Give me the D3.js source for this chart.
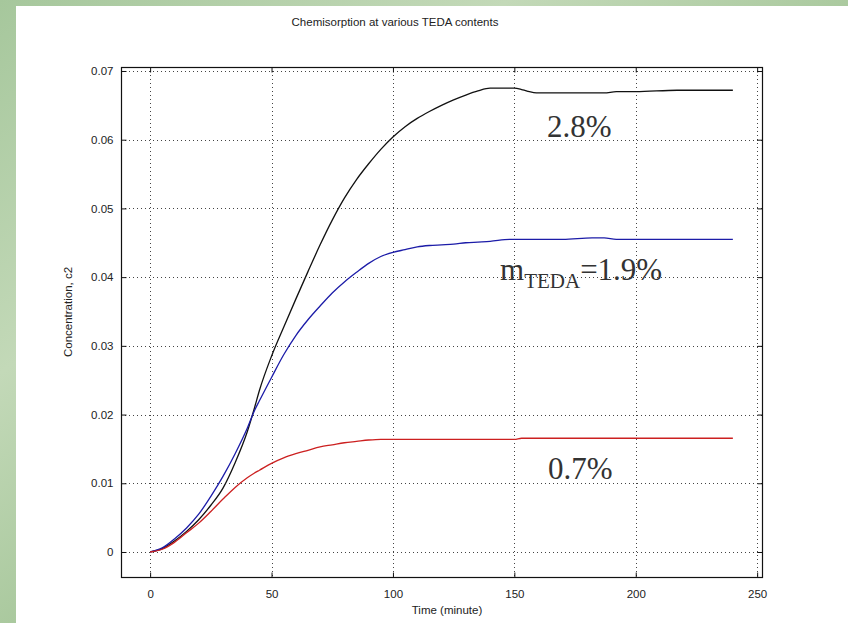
<!DOCTYPE html>
<html>
<head>
<meta charset="utf-8">
<script src="https://cdn.jsdelivr.net/npm/d3@7"></script>
<style>
  html, body { margin: 0; padding: 0; background: #ffffff; }
  svg { display: block; }
</style>
</head>
<body>
<svg id="chart" width="848" height="623"></svg>
<script>
// ---------- data ----------
const chartTitle = "Chemisorption at various TEDA contents";
const xTitle = "Time (minute)";
const yTitle = "Concentration, c2";

const timeMin = [0,5,10,15,20,25,30,35,40,43,45,50,55,60,65,70,75,80,85,90,95,100,105,110,115,120,125,130,135,140,148,150,153,155,160,170,182,187,192,200,217,230,240];

const teda28 = [0,0.0005,0.0016,0.0030,0.0047,0.0068,0.0093,0.0130,0.0175,0.0210,0.0235,0.0285,0.0327,0.0368,0.0408,0.0447,0.0483,0.0515,0.0542,0.0565,0.0586,0.0604,0.0619,0.0631,0.0641,0.0650,0.0658,0.0665,0.0671,0.0675,0.0675,0.0675,0.0673,0.0671,0.0668,0.0668,0.0668,0.0668,0.0670,0.0670,0.0672,0.0672,0.0672];

const teda19 = [0,0.0006,0.0019,0.0035,0.0055,0.0081,0.0110,0.0143,0.0180,0.0206,0.0220,0.0254,0.0287,0.0315,0.0338,0.0358,0.0377,0.0393,0.0407,0.0420,0.0430,0.0436,0.0440,0.0444,0.0446,0.0447,0.0448,0.0450,0.0451,0.0452,0.0455,0.0455,0.0455,0.0455,0.0455,0.0455,0.0457,0.0457,0.0455,0.0455,0.0455,0.0455,0.0455];

const teda07 = [0,0.0004,0.0014,0.0028,0.0042,0.0059,0.0077,0.0094,0.0108,0.0115,0.0119,0.0129,0.0137,0.0143,0.0148,0.0153,0.0156,0.0159,0.0161,0.0163,0.0164,0.0164,0.0164,0.0164,0.0164,0.0164,0.0164,0.0164,0.0164,0.0164,0.0164,0.0164,0.01655,0.01655,0.01655,0.01655,0.01655,0.01655,0.01655,0.01655,0.01655,0.01655,0.01655];

const seriesNames = ["2.8%", "1.9%", "0.7%"];
const seriesColors = ["#111111", "#1c1ca8", "#cc2020"];

const xTicks = [0, 50, 100, 150, 200, 250];
const yTicks = [0, 0.01, 0.02, 0.03, 0.04, 0.05, 0.06, 0.07];
const yTickLabels = ["0", "0.01", "0.02", "0.03", "0.04", "0.05", "0.06", "0.07"];

// ---------- layout ----------
const svg = d3.select("#chart");
const W = 848, H = 623;
const plot = { left: 121, top: 67, right: 762, bottom: 577 };

// background (green texture approximation)
const defs = svg.append("defs");
const grad = defs.append("linearGradient").attr("id", "bg").attr("x1", "0").attr("y1", "0").attr("x2", "1").attr("y2", "1");
grad.append("stop").attr("offset", "0%").attr("stop-color", "#a6c79c");
grad.append("stop").attr("offset", "30%").attr("stop-color", "#c3d9b8");
grad.append("stop").attr("offset", "60%").attr("stop-color", "#9fc293");
grad.append("stop").attr("offset", "100%").attr("stop-color", "#b8d3a8");
svg.append("rect").attr("x", 0).attr("y", 0).attr("width", W).attr("height", H).attr("fill", "url(#bg)");
svg.append("rect").attr("x", 16).attr("y", 6).attr("width", W - 16).attr("height", H - 6).attr("fill", "#ffffff");

// scales
const x = d3.scaleLinear()
  .domain([-12, 252])
  .range([plot.left, plot.right]);
const y = d3.scaleLinear()
  .domain([-0.00364, 0.07058])
  .range([plot.bottom, plot.top]);

// grid
const grid = svg.append("g").attr("stroke", "#444").attr("stroke-width", 1).attr("stroke-dasharray", "1,3");
grid.selectAll("line.gx").data(xTicks).join("line")
  .attr("x1", d => Math.round(x(d)) + 0.5).attr("x2", d => Math.round(x(d)) + 0.5)
  .attr("y1", plot.top).attr("y2", plot.bottom);
grid.selectAll("line.gy").data(yTicks).join("line")
  .attr("y1", d => Math.round(y(d)) + 0.5).attr("y2", d => Math.round(y(d)) + 0.5)
  .attr("x1", plot.left).attr("x2", plot.right);

// lines
const lineGen = vals => d3.line()
  .curve(d3.curveMonotoneX)
  .x((d, i) => x(timeMin[i]))
  .y(d => y(d))(vals);
[teda28, teda19, teda07].forEach((vals, i) => {
  svg.append("path")
    .attr("d", lineGen(vals))
    .attr("fill", "none")
    .attr("stroke", seriesColors[i])
    .attr("stroke-width", 1.3);
});

// frame
svg.append("rect")
  .attr("x", plot.left + 0.5).attr("y", plot.top + 0.5)
  .attr("width", plot.right - plot.left).attr("height", plot.bottom - plot.top)
  .attr("fill", "none").attr("stroke", "#111").attr("stroke-width", 1.2);

const fontAxis = "Arial, 'Liberation Sans', sans-serif";

// axes
const axL = svg.append("g").attr("transform", `translate(${plot.left + 0.5},0)`)
  .call(d3.axisLeft(y).tickValues(yTicks).tickFormat((d, i) => yTickLabels[i]).tickSizeInner(-5).tickSizeOuter(0).tickPadding(8));
const axB = svg.append("g").attr("transform", `translate(0,${plot.bottom + 0.5})`)
  .call(d3.axisBottom(x).tickValues(xTicks).tickFormat(d3.format("d")).tickSizeInner(-5).tickSizeOuter(0).tickPadding(12));
const axR = svg.append("g").attr("transform", `translate(${plot.right + 0.5},0)`)
  .call(d3.axisRight(y).tickValues(yTicks).tickFormat("").tickSizeInner(-5).tickSizeOuter(0));
const axT = svg.append("g").attr("transform", `translate(0,${plot.top + 0.5})`)
  .call(d3.axisTop(x).tickValues(xTicks).tickFormat("").tickSizeInner(-5).tickSizeOuter(0));
[axL, axB, axR, axT].forEach(g => {
  g.select(".domain").remove();
  g.selectAll(".tick line").attr("stroke", "#111");
  g.selectAll("text").attr("font-family", fontAxis).attr("font-size", 11.5).attr("fill", "#222");
});

// titles
svg.append("text").attr("x", 395).attr("y", 26).attr("text-anchor", "middle")
  .attr("font-family", fontAxis).attr("font-size", 11.5).attr("fill", "#222").text(chartTitle);
svg.append("text").attr("x", 447).attr("y", 614).attr("text-anchor", "middle")
  .attr("font-family", fontAxis).attr("font-size", 11.5).attr("fill", "#222").text(xTitle);
svg.append("text").attr("transform", "translate(72,312) rotate(-90)").attr("text-anchor", "middle")
  .attr("font-family", fontAxis).attr("font-size", 11.5).attr("fill", "#222").text(yTitle);

// annotations
const serif = "'Times New Roman', 'Liberation Serif', serif";
svg.append("text").attr("x", 547).attr("y", 137)
  .attr("font-family", serif).attr("font-size", 31).attr("fill", "#333").text(seriesNames[0]);
const t2 = svg.append("text").attr("x", 500).attr("y", 280)
  .attr("font-family", serif).attr("font-size", 31).attr("fill", "#333");
t2.append("tspan").text("m");
t2.append("tspan").attr("font-size", 21).attr("dy", 8).text("TEDA");
t2.append("tspan").attr("dy", -8).text("=" + seriesNames[1]);
svg.append("text").attr("x", 548).attr("y", 479)
  .attr("font-family", serif).attr("font-size", 31).attr("fill", "#333").text(seriesNames[2]);
</script>
</body>
</html>
